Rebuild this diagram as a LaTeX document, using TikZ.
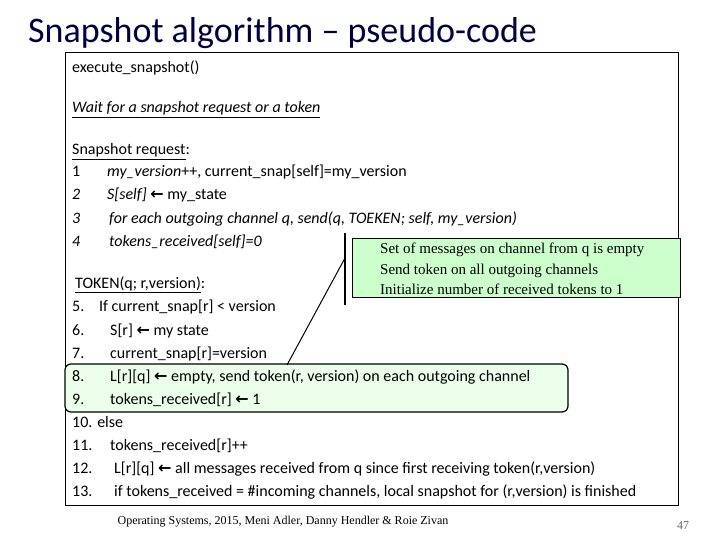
\documentclass[tikz,border=0pt]{standalone}
\usepackage{fontspec}
\setmainfont{Carlito}
\newfontfamily\serifc{Liberation Serif}
\newfontfamily\dvs{DejaVu Sans}
\newcommand{\LA}{{\dvs\bfseries ←}}
\begin{document}
\begin{tikzpicture}[x=1pt,y=-1pt,
  code/.style={anchor=base west,inner sep=0pt,font=\fontsize{16}{18}\selectfont},
  note/.style={anchor=base west,inner sep=0pt,font=\serifc\fontsize{15}{17}\selectfont}]
\useasboundingbox (0,0) rectangle (720,540);
\node[anchor=base west,inner sep=0pt,font=\fontsize{36}{40}\selectfont,text=black!75!blue] (title) at (28,43) {Snapshot algorithm – pseudo-code};
\draw[fill=white] (65,52) rectangle (678,505);
\draw[rounded corners=6pt,fill=green!8,line width=1.2pt] (65,364) rectangle (568,412);
\node[draw,line width=1.2pt,fill=green!20,minimum width=328pt,minimum height=59pt,anchor=north west] (call) at (352,238) {};
\coordinate (vt) at (345,233); \coordinate (vb) at (345,305);
\draw[line width=1.2pt] (vt) -- (vb);
\coordinate (ptop) at (345,258); \coordinate (ptip) at (287,365);
\draw[line width=1pt] (ptop) -- (ptip);
\node[note] (c1) at (380,253) {Set of messages on channel from q is empty};
\node[note] (c2) at (380,274) {Send token on all outgoing channels};
\node[note] (c3) at (380,294) {Initialize number of received tokens to 1};
\node[code] (l0) at (72,73) {execute\_snapshot()};
\node[code] (lw) at (72,113) {\underline{\itshape Wait for a snapshot request or a token}};
\node[code] (ls) at (72,155) {\underline{Snapshot request}:};
\node[code] (n1) at (72,177) {1}; \node[code] (t1) at (107,177) {\itshape my\_version\upshape++, current\_snap[self]=my\_version};
\node[code] (n2) at (72,200) {\itshape 2}; \node[code] (t2) at (107,200) {\itshape S[self] \upshape\LA{} my\_state};
\node[code] (n3) at (72,223) {\itshape 3}; \node[code] (t3) at (109,223) {\itshape for each outgoing channel q, send(q, TOEKEN; self, my\_version)};
\node[code] (n4) at (72,246) {\itshape 4}; \node[code] (t4) at (109,246) {\itshape tokens\_received[self]=0};
\node[code] (lt) at (75,288) {\underline{TOKEN(q; r,version)}:};
\node[code] (n5) at (72,311) {5.}; \node[code] (t5) at (99,311) {If current\_snap[r] < version};
\node[code] (n6) at (72,335) {6.}; \node[code] (t6) at (110,335) {S[r] \LA{} my state};
\node[code] (n7) at (72,358) {7.}; \node[code] (t7) at (110,358) {current\_snap[r]=version};
\node[code] (n8) at (72,381) {8.}; \node[code] (t8) at (110,381) {L[r][q] \LA{} empty, send token(r, version) on each outgoing channel};
\node[code] (n9) at (72,404) {9.}; \node[code] (t9) at (110,404) {tokens\_received[r] \LA{} 1};
\node[code] (n10) at (72,427) {10. else};
\node[code] (n11) at (72,450) {11.}; \node[code] (t11) at (110,450) {tokens\_received[r]++};
\node[code] (n12) at (72,473) {12.}; \node[code] (t12) at (114,473) {L[r][q] \LA{} all messages received from q since first receiving token(r,version)};
\node[code] (n13) at (72,496) {13.}; \node[code] (t13) at (114,496) {if tokens\_received = \#incoming channels, local snapshot for (r,version) is finished};
\node[inner sep=0pt,font=\serifc\fontsize{12}{14}\selectfont] (foot) at (283,522) {Operating Systems, 2015, Meni Adler, Danny Hendler \& Roie Zivan};
\node[inner sep=0pt,font=\serifc\fontsize{12}{14}\selectfont,text=black!60] (pg) at (683,526) {47};
\end{tikzpicture}
\end{document}
